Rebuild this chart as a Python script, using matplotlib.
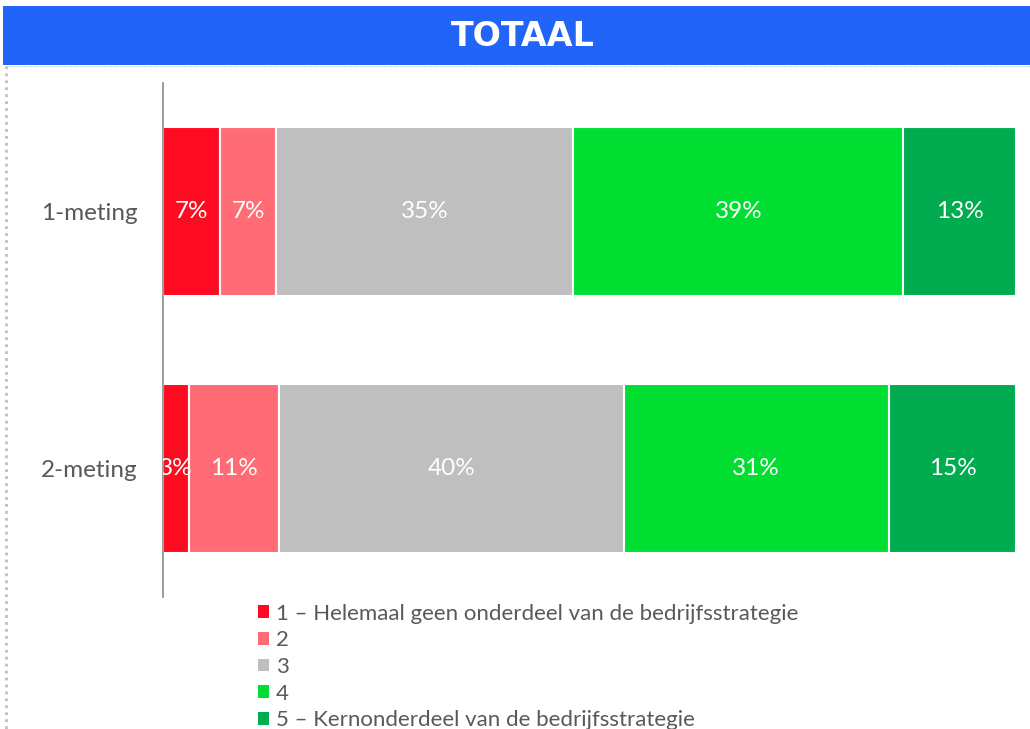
import matplotlib
matplotlib.use("Agg")
import matplotlib.pyplot as plt
from matplotlib.patches import Patch, Rectangle
from matplotlib.lines import Line2D
import numpy as np

# ---- data ----
categories = ["1-meting", "2-meting"]
series_names = [
    "1 – Helemaal geen onderdeel van de bedrijfsstrategie",
    "2",
    "3",
    "4",
    "5 – Kernonderdeel van de bedrijfsstrategie",
]
values_1 = [6.7, 6.6, 34.8, 38.7, 13.2]
values_2 = [3.0, 10.6, 40.4, 31.1, 14.9]
colors = ["#FF0B21", "#FF6C75", "#BFBFBF", "#00DE32", "#00AC4F"]
title = "TOTAAL"

data = np.array([values_1, values_2])  # rows: categories, cols: series

W, H = 1030, 729
fig = plt.figure(figsize=(W / 100, H / 100), dpi=100)
fig.patch.set_facecolor("white")

# title band
band = Rectangle((3 / W, 1 - 65 / H), 1 - 3 / W, 59 / H, transform=fig.transFigure,
                 facecolor="#2264F7", edgecolor="none", zorder=0)
fig.patches.append(band)
fig.text(523 / W, 1 - 36 / H, title, ha="center", va="center", color="white",
         fontsize=24, fontweight="bold", family=["DejaVu Sans"])

# dotted frame lines
fig.add_artist(Line2D([6 / W, 6 / W], [1 - 66 / H, 0], transform=fig.transFigure,
                      color="#BFBFBF", lw=2, linestyle=(0, (1, 1.5))))
fig.add_artist(Line2D([6 / W, 1], [1 - 65.5 / H, 1 - 65.5 / H], transform=fig.transFigure,
                      color="#C8C8C8", lw=0.8, linestyle=(0, (1, 1))))

plt.rcParams["font.family"] = ["Lato", "DejaVu Sans"]

ax = fig.add_axes([163 / W, 1 - 597 / H, (1016 - 163) / W, (597 - 83) / H])
ypos = np.arange(len(categories))
left = np.zeros(len(categories))
for j, name in enumerate(series_names):
    vals = data[:, j]
    ax.barh(ypos, vals, left=left, height=0.66, color=colors[j],
            edgecolor="white", linewidth=1.5, label=name, zorder=2)
    for i, v in enumerate(vals):
        ax.text(left[i] + v / 2, ypos[i], f"{round(v):d}%", ha="center", va="center",
                color="white", fontsize=17.5, clip_on=True, zorder=3)
    left += vals

ax.set_xlim(0, 100)
ax.set_ylim(1.5, -0.5)
ax.set_yticks(ypos)
ax.set_yticklabels(categories, fontsize=17.5, color="#595959")
ax.tick_params(axis="y", length=0, pad=18)
ax.set_xticks([])
for s in ["top", "right", "bottom"]:
    ax.spines[s].set_visible(False)
ax.spines["left"].set_color("#898989")
ax.spines["left"].set_linewidth(1.2)

handles = [Patch(facecolor=c, edgecolor="none") for c in colors]
fig.legend(handles, series_names, loc="upper left",
           bbox_to_anchor=(258 / W, 1 - 603.5 / H), frameon=False,
           fontsize=16, labelcolor="#595959", borderpad=0, borderaxespad=0,
           handlelength=0.5, handleheight=0.5, handletextpad=0.3,
           labelspacing=0.3)

fig.savefig("out.png", dpi=100, facecolor="white")
